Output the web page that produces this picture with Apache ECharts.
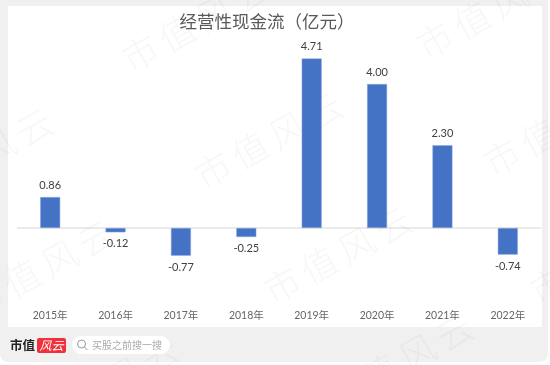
<!DOCTYPE html>
<html>
<head>
<meta charset="utf-8">
<style>
  html, body { margin: 0; padding: 0; background: #fff; }
  #chart { width: 550px; height: 365px; }
</style>
<script src="https://cdn.jsdelivr.net/npm/echarts@6/dist/echarts.min.js"></script>
</head>
<body>
<div id="chart"></div>
<script>
const years = ['2015年', '2016年', '2017年', '2018年', '2019年', '2020年', '2021年', '2022年']
const cashFlow = [0.86, -0.12, -0.77, -0.25, 4.71, 4.00, 2.30, -0.74]
const titleText = '经营性现金流（亿元）'
const markChars = ['市', '值', '风', '云']
// centre of the first glyph of each rotated watermark
const marks = [
  [140, 53], [213, 170], [435, 40], [502, 157], [-77, 187], [-15, 298], [282, 285], [548, 285], [343, 392], [49, 415]
]
const CJK = '"Noto Sans CJK SC", sans-serif'

const chart = echarts.init(document.getElementById('chart'), null, { renderer: 'canvas' })

const option = {
  animation: false,
  backgroundColor: '#fff',
  title: {
    text: titleText, left: 262, top: 8, textAlign: 'center',
    textStyle: { color: '#595959', fontSize: 17.5, fontWeight: 'normal', fontFamily: CJK },
  },
  grid: { left: 17.5, right: 9.5, top: 48, bottom: 65 },
  xAxis: [
    {
      type: 'category', data: years, position: 'bottom',
      axisLine: { onZero: true, lineStyle: { color: '#e4e4e4', width: 1.5 } },
      axisTick: { show: false }, axisLabel: { show: false },
    },
    {
      type: 'category', data: years, position: 'bottom',
      axisLine: { show: false }, axisTick: { show: false },
      axisLabel: { color: '#666', fontSize: 10.5, margin: 10, fontFamily: 'Lato, ' + CJK },
    },
  ],
  yAxis: { type: 'value', min: -2, max: 5, interval: 1, show: false, splitLine: { show: false } },
  series: [{
    type: 'bar', data: cashFlow, barWidth: 20, xAxisIndex: 0,
    itemStyle: { color: '#4472c4', borderColor: '#8fade0', borderWidth: 0.5 },
    label: {
      show: true, position: 'outside', distance: 6, color: '#404040', fontSize: 11, fontFamily: 'Lato, sans-serif',
      formatter: p => p.value.toFixed(2),
    },
    z: 3,
  }],
  graphic: [
    // grey page frame behind the white chart panel
    { type: 'rect', z: -10, silent: true, shape: { x: 0, y: 327, width: 548, height: 35, r: [0, 0, 8, 8] }, style: { fill: '#f0f0f0' } },
    { type: 'rect', z: -10, silent: true, shape: { x: 0, y: 0, width: 8, height: 327 }, style: { fill: '#f0f0f0' } },
    { type: 'rect', z: -10, silent: true, shape: { x: 542, y: 0, width: 6, height: 327 }, style: { fill: '#f0f0f0' } },
    { type: 'rect', z: -10, silent: true, shape: { x: 8, y: 0, width: 534, height: 6 }, style: { fill: '#f0f0f0' } },
    // watermark, one glyph at a time so the spacing stays wide
    ...marks.flatMap(m => markChars.map((c, i) => ({
      type: 'text', z: 10, silent: true, x: m[0] + 37 * i, y: m[1] - 20 * i,
      rotation: 29 * Math.PI / 180,
      style: { text: c, fill: 'rgba(120,120,120,0.06)', font: '300 36px ' + CJK, textAlign: 'center', textVerticalAlign: 'middle' },
    }))),
    // footer
    { type: 'text', z: 20, silent: true, x: 10, y: 345, style: { text: '市值', fill: '#222', font: 'bold 12.5px "Noto Sans CJK SC"', textVerticalAlign: 'middle' } },
    { type: 'rect', z: 20, silent: true, shape: { x: 37, y: 338, width: 29, height: 15, r: 2 }, style: { fill: '#f0303a' } },
    { type: 'text', z: 21, silent: true, x: 51.5, y: 345.5, style: { text: '风云', fill: '#fff', font: 'italic 12px "Noto Sans CJK SC"', textAlign: 'center', textVerticalAlign: 'middle' } },
    { type: 'rect', z: 20, silent: true, shape: { x: 72, y: 336, width: 98, height: 18, r: 9 }, style: { fill: '#fff' } },
    { type: 'circle', z: 21, silent: true, shape: { cx: 81.5, cy: 344, r: 4 }, style: { fill: 'none', stroke: '#999', lineWidth: 1 } },
    { type: 'line', z: 21, silent: true, shape: { x1: 84.5, y1: 347, x2: 87.5, y2: 350 }, style: { stroke: '#999', lineWidth: 1 } },
    { type: 'text', z: 21, silent: true, x: 92, y: 345, style: { text: '买股之前搜一搜', fill: '#aaa', font: '10px "Noto Sans CJK SC"', textVerticalAlign: 'middle' } },
  ],
}
chart.setOption(option)
</script>
</body>
</html>
